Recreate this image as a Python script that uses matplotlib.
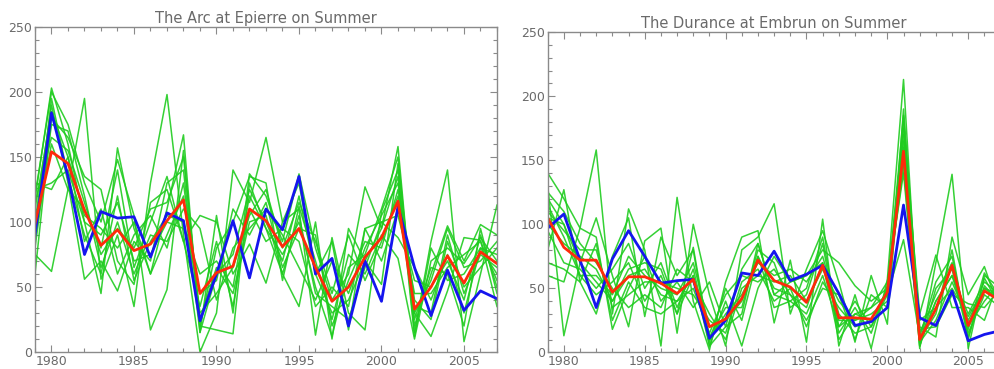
import numpy as np
import matplotlib
matplotlib.use('Agg')
import matplotlib.pyplot as plt
from matplotlib.ticker import MultipleLocator

# years 1979-2007
years = list(range(1979, 2008))

# The Arc at Epierre
arc_obs = [90, 184, 135, 75, 108, 103, 104, 73, 107, 101, 24, 60, 101, 57, 110, 94, 135, 60, 72, 20,
           70, 39, 112, 65, 28, 63, 32, 47, 41]
arc_mean = [99, 154, 145, 109, 82, 94, 78, 83, 101, 117, 45, 61, 66, 110, 101, 81, 95, 65, 39, 50,
            73, 88, 116, 33, 50, 74, 53, 77, 68]
arc_members = [
    [118, 203, 160, 100, 45, 157, 95, 60, 110, 167, 15, 105, 30, 137, 120, 85, 137, 80, 40, 60, 127, 95, 158, 20, 60, 97, 70, 98, 90],
    [75, 62, 125, 195, 56, 90, 35, 130, 198, 90, 0, 30, 140, 115, 165, 100, 110, 13, 88, 30, 17, 108, 140, 15, 85, 140, 8, 60, 113],
    [120, 200, 175, 130, 100, 148, 105, 17, 48, 155, 20, 17, 14, 130, 95, 60, 35, 100, 10, 95, 70, 52, 145, 30, 12, 47, 88, 86, 35],
    [60, 180, 165, 135, 125, 70, 52, 115, 125, 85, 105, 100, 60, 83, 53, 100, 130, 60, 85, 17, 95, 100, 88, 65, 40, 75, 30, 80, 60],
    [100, 190, 130, 56, 70, 47, 85, 70, 130, 140, 20, 80, 100, 135, 130, 55, 112, 70, 25, 75, 60, 90, 72, 10, 70, 80, 68, 88, 70],
    [80, 175, 170, 120, 65, 100, 60, 90, 85, 110, 95, 40, 80, 95, 110, 90, 65, 40, 70, 45, 80, 105, 130, 40, 25, 85, 50, 65, 80],
    [125, 130, 140, 100, 90, 115, 70, 75, 100, 95, 60, 70, 50, 120, 95, 75, 100, 50, 12, 65, 75, 110, 150, 25, 65, 60, 20, 95, 45],
    [110, 185, 150, 85, 110, 60, 90, 105, 80, 130, 30, 45, 65, 105, 125, 80, 115, 85, 45, 90, 55, 85, 120, 30, 55, 95, 65, 70, 85],
    [90, 160, 125, 110, 80, 140, 65, 100, 135, 85, 35, 85, 35, 110, 85, 95, 85, 35, 50, 35, 95, 70, 110, 45, 45, 65, 75, 85, 55],
    [130, 125, 150, 105, 95, 80, 100, 60, 90, 120, 15, 60, 75, 125, 100, 70, 120, 60, 30, 40, 70, 95, 135, 12, 80, 55, 60, 80, 75],
    [85, 195, 135, 90, 60, 120, 55, 85, 105, 100, 45, 55, 110, 90, 115, 65, 95, 90, 20, 55, 85, 80, 125, 35, 30, 90, 45, 75, 65],
    [115, 165, 155, 115, 75, 95, 80, 110, 115, 150, 25, 65, 45, 100, 105, 60, 105, 45, 35, 25, 65, 100, 105, 55, 50, 70, 40, 90, 50],
]

# The Durance at Embrun
dur_obs = [97, 108, 72, 35, 73, 95, 75, 54, 56, 57, 11, 25, 62, 60, 79, 56, 61, 68, 46, 21,
           24, 35, 115, 27, 21, 48, 9, 14, 17]
dur_mean = [105, 82, 72, 72, 47, 59, 59, 54, 46, 57, 20, 26, 42, 72, 56, 51, 39, 68, 27, 27,
            26, 47, 157, 10, 34, 68, 21, 48, 40]
dur_members = [
    [140, 120, 97, 158, 30, 112, 80, 5, 121, 40, 2, 55, 90, 95, 23, 72, 8, 104, 5, 45, 3, 57, 213, 3, 70, 139, 3, 60, 50],
    [130, 13, 70, 105, 60, 20, 87, 97, 15, 100, 45, 5, 80, 90, 116, 30, 65, 95, 55, 8, 60, 22, 190, 20, 12, 90, 45, 67, 30],
    [80, 127, 55, 30, 75, 105, 28, 90, 60, 80, 5, 40, 5, 50, 75, 55, 60, 80, 70, 52, 40, 50, 175, 30, 76, 35, 35, 25, 60],
    [60, 55, 97, 90, 18, 50, 75, 40, 55, 35, 55, 20, 65, 85, 45, 40, 30, 60, 20, 30, 35, 55, 140, 5, 40, 60, 30, 55, 45],
    [120, 100, 60, 45, 55, 70, 40, 60, 30, 82, 10, 30, 45, 70, 60, 65, 55, 75, 30, 15, 20, 45, 88, 12, 55, 75, 15, 45, 35],
    [100, 85, 75, 65, 40, 60, 65, 45, 40, 60, 8, 50, 25, 75, 50, 45, 35, 70, 25, 25, 30, 40, 180, 8, 25, 55, 25, 50, 40],
    [110, 95, 80, 80, 35, 45, 55, 55, 50, 45, 25, 15, 55, 65, 40, 50, 20, 55, 35, 20, 25, 48, 165, 15, 45, 70, 20, 40, 55],
    [95, 70, 65, 50, 65, 85, 50, 70, 35, 65, 12, 35, 35, 80, 70, 35, 45, 85, 15, 35, 15, 52, 150, 10, 30, 80, 10, 58, 35],
    [125, 110, 85, 70, 50, 35, 45, 35, 65, 55, 30, 10, 50, 60, 55, 60, 40, 65, 40, 25, 35, 45, 170, 25, 35, 50, 28, 50, 45],
    [115, 90, 60, 60, 45, 75, 60, 50, 45, 70, 20, 25, 40, 75, 35, 40, 50, 90, 20, 40, 20, 50, 145, 5, 50, 65, 12, 52, 38],
    [70, 65, 55, 85, 25, 55, 35, 30, 40, 50, 15, 45, 60, 55, 65, 45, 25, 50, 45, 10, 45, 35, 160, 18, 20, 45, 38, 35, 50],
    [105, 100, 70, 55, 40, 65, 70, 65, 30, 60, 5, 20, 30, 85, 45, 55, 60, 70, 10, 30, 25, 48, 185, 10, 40, 60, 18, 62, 42],
]

AXIS_GRAY = '#8a8a8a'
TEXT_GRAY = '#6a6a6a'


def draw_panel(ax, title, members, obs, mean):
    # ensemble members in green, obs in blue, ensemble mean in red
    for m in members:
        ax.plot(years, m, color='#1fcc1f', lw=1.1, alpha=0.9)
    ax.plot(years, obs, color='#1515ee', lw=2.0)
    ax.plot(years, mean, color='#ff2a0a', lw=2.0)

    ax.set_xlim(1979, 2007)
    ax.set_ylim(0, 250)
    ax.xaxis.set_major_locator(MultipleLocator(5))
    ax.xaxis.set_minor_locator(MultipleLocator(1))
    ax.yaxis.set_major_locator(MultipleLocator(50))
    ax.yaxis.set_minor_locator(MultipleLocator(10))
    ax.tick_params(which='both', direction='in', top=True, right=True,
                   color=AXIS_GRAY, labelcolor=TEXT_GRAY, labelsize=9, pad=2)
    ax.tick_params(which='major', length=5, width=0.8)
    ax.tick_params(which='minor', length=3, width=0.8)
    for s in ax.spines.values():
        s.set_color(AXIS_GRAY)
        s.set_linewidth(1.0)
    ax.set_title(title, color=TEXT_GRAY, fontsize=10.5, pad=3)


fig = plt.figure(figsize=(9.94, 3.69), dpi=100)
ax1 = fig.add_axes([0.0352, 0.046, 0.4648, 0.881])
ax2 = fig.add_axes([0.551, 0.045, 0.4556, 0.868])

draw_panel(ax1, 'The Arc at Epierre on Summer', arc_members, arc_obs, arc_mean)
draw_panel(ax2, 'The Durance at Embrun on Summer', dur_members, dur_obs, dur_mean)

fig.savefig('out.png', dpi=100)
